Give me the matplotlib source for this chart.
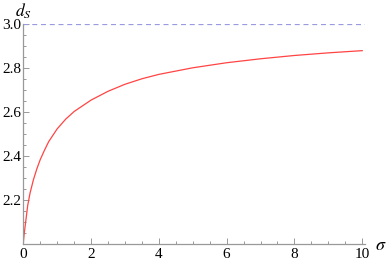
import matplotlib
matplotlib.use("Agg")
import matplotlib.pyplot as plt
from matplotlib.ticker import MultipleLocator, FixedLocator

# values
sigma = [0, 0.01, 0.03, 0.07, 0.13, 0.2, 0.3, 0.4, 0.5, 0.62, 0.75, 1.0,
         1.25, 1.5, 2.0, 2.5, 3.0, 3.5, 4.0, 5.0, 6.0, 7.0, 8.0, 9.0, 10.0]
d_s = [2.0, 2.02, 2.05, 2.10, 2.175, 2.232, 2.293, 2.342, 2.384, 2.425, 2.466, 2.524,
       2.568, 2.603, 2.655, 2.695, 2.727, 2.752, 2.772, 2.802, 2.825, 2.843, 2.858, 2.870, 2.880]
limit = 3.0
x_ticks = [0, 2, 4, 6, 8, 10]
y_ticks = [2.2, 2.4, 2.6, 2.8, 3.0]

plt.rcParams['font.family'] = ['Liberation Serif', 'DejaVu Serif']
plt.rcParams['mathtext.fontset'] = 'stix'

fig = plt.figure(figsize=(3.9, 2.66), dpi=100)
ax = fig.add_axes([0.0597, 0.0827, 0.876, 0.826])

ax.plot(sigma, d_s, color='#ff4444', lw=0.9)
ax.axhline(limit, color='#9a9ae0', lw=0.9, dashes=(4, 3))

ax.set_xlim(0, 10.08)
ax.set_ylim(2.0, 3.0)
ax.xaxis.set_major_locator(FixedLocator(x_ticks))
ax.xaxis.set_minor_locator(MultipleLocator(0.5))
ax.yaxis.set_major_locator(FixedLocator(y_ticks))
ax.yaxis.set_minor_locator(MultipleLocator(0.05))
ax.set_xticklabels([str(t) for t in x_ticks])
ax.set_yticklabels(['%.1f' % t for t in y_ticks])

for s in ['top', 'right']:
    ax.spines[s].set_visible(False)
for s in ['left', 'bottom']:
    ax.spines[s].set_color('#999999')
    ax.spines[s].set_linewidth(0.9)
ax.tick_params(which='both', direction='in', color='#999999', labelsize=11, width=0.7)
ax.tick_params(which='major', length=4)
ax.tick_params(which='minor', length=2.5)
ax.tick_params(axis='x', pad=3)
ax.tick_params(axis='y', pad=1.5)

ax.text(1.047, -0.005, r'$\sigma$', transform=ax.transAxes, fontsize=13, va='center', ha='center')
ax.text(0.0, 1.015, r'$d_S$', transform=ax.transAxes, fontsize=12.5, va='bottom', ha='center')

fig.savefig('out.png', dpi=100)
